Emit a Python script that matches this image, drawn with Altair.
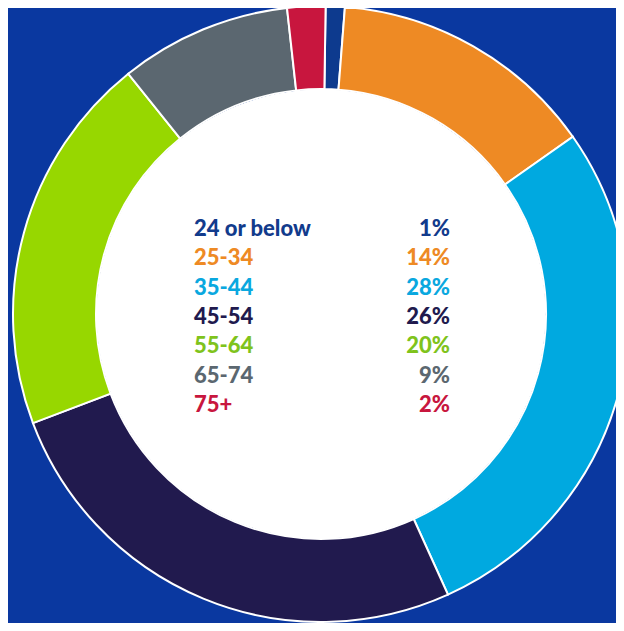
import altair as alt
import pandas as pd

categories = ["24 or below", "25-34", "35-44", "45-54", "55-64", "65-74", "75+"]
values = [1, 14, 28, 26, 20, 9, 2]
labels = ["1%", "14%", "28%", "26%", "20%", "9%", "2%"]
seg_colors = ["#0d3a8e", "#ee8a24", "#00a9e0", "#211a4e", "#97d700", "#5b6770", "#c8163e"]
text_colors = ["#123b8c", "#ee8a24", "#0aa8df", "#211a4e", "#7fc31c", "#5b6770", "#c8163e"]

df = pd.DataFrame({
    "category": categories,
    "value": values,
    "label": labels,
    "order": list(range(len(categories))),
})

CX, CY = 313, 306

donut = alt.Chart(df).mark_arc(
    outerRadius=308, innerRadius=225, stroke="white", strokeWidth=2
).encode(
    theta=alt.Theta("value:Q", stack=True, scale=alt.Scale(range=[0.015, 6.2982])),
    order=alt.Order("order:Q"),
    color=alt.Color("category:N", sort=categories,
                    scale=alt.Scale(domain=categories, range=seg_colors), legend=None),
    x=alt.value(CX),
    y=alt.value(CY),
)

inner = alt.Chart(df).mark_arc(
    outerRadius=224, innerRadius=0, color="white"
).encode(
    theta=alt.value(6.2832),
    x=alt.value(CX),
    y=alt.value(CY),
)

rows = alt.Y("category:N", sort=categories,
             scale=alt.Scale(type="point", domain=categories, range=[228, 404], padding=0),
             axis=None)
tcolor = alt.Color("category:N", sort=categories,
                   scale=alt.Scale(domain=categories, range=text_colors), legend=None)

names = alt.Chart(df).mark_text(
    align="left", baseline="alphabetic", font="Lato", fontWeight=900, fontSize=22
).encode(
    x=alt.value(186), y=rows, text="category:N", color=tcolor,
)

pcts = alt.Chart(df).mark_text(
    align="right", baseline="alphabetic", font="Lato", fontWeight=900, fontSize=22
).encode(
    x=alt.value(442), y=rows, text="label:N", color=tcolor,
)

text_layer = alt.layer(names, pcts)

chart = alt.layer(donut, inner, text_layer).resolve_scale(
    color="independent"
).properties(
    width=608, height=615, padding=0, autosize=alt.AutoSizeParams(type="none"),
    background="#0a38a0",
).configure_view(stroke=None)

chart.save("out.html", embed_options={"renderer": "svg", "actions": False})
